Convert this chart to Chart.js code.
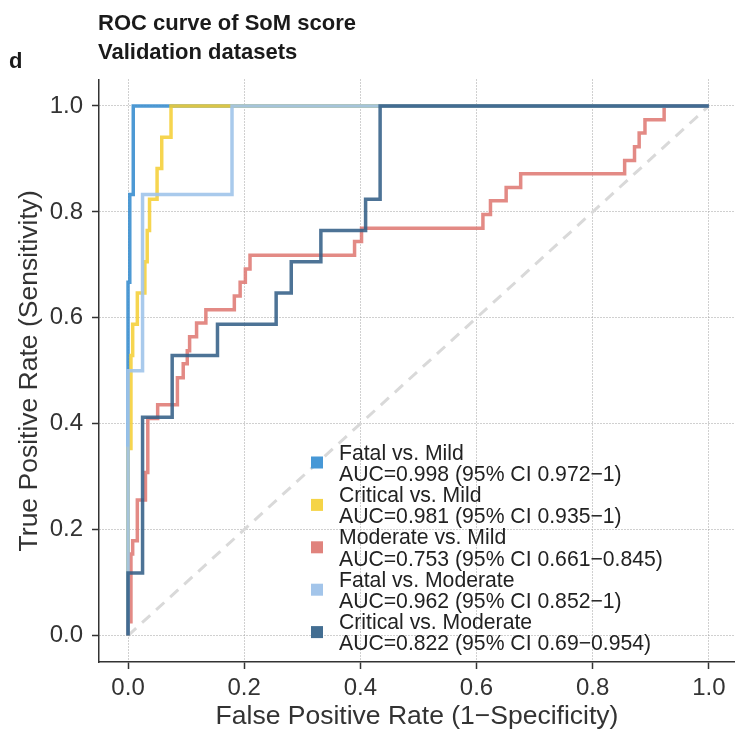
<!DOCTYPE html>
<html>
<head>
<meta charset="utf-8">
<script src="https://cdn.jsdelivr.net/npm/chart.js@4/dist/chart.umd.min.js"></script>
<style>
html,body{margin:0;padding:0;background:#fff;}
#wrap{width:735px;height:733px;}
</style>
</head>
<body>
<div id="wrap"><canvas id="c" width="735" height="733"></canvas></div>
<script>
// ---------- data ----------
const seriesNames = [
  "Fatal vs. Mild",
  "Critical vs. Mild",
  "Moderate vs. Mild",
  "Fatal vs. Moderate",
  "Critical vs. Moderate"
];
const aucLabels = [
  "AUC=0.998 (95% CI 0.972\u22121)",
  "AUC=0.981 (95% CI 0.935\u22121)",
  "AUC=0.753 (95% CI 0.661\u22120.845)",
  "AUC=0.962 (95% CI 0.852\u22121)",
  "AUC=0.822 (95% CI 0.69\u22120.954)"
];
const fatalMildFpr = [0, 0, 0.003, 0.003, 0.009, 0.009, 1];
const fatalMildTpr = [0, 0.667, 0.667, 0.833, 0.833, 1, 1];

const criticalMildFpr = [0, 0, 0.005, 0.005, 0.008, 0.008, 0.016, 0.016, 0.029, 0.029, 0.033, 0.033, 0.037, 0.037, 0.050, 0.050, 0.058, 0.058, 0.074, 0.074, 1];
const criticalMildTpr = [0, 0.353, 0.353, 0.529, 0.529, 0.588, 0.588, 0.647, 0.647, 0.706, 0.706, 0.765, 0.765, 0.824, 0.824, 0.882, 0.882, 0.941, 0.941, 1, 1];

const moderateMildFpr = [0, 0, 0.005, 0.005, 0.008, 0.008, 0.016, 0.016, 0.030, 0.030, 0.034, 0.034, 0.051, 0.051, 0.085, 0.085, 0.095, 0.095, 0.102, 0.102, 0.106, 0.106, 0.118, 0.118, 0.134, 0.134, 0.183, 0.183, 0.193, 0.193, 0.202, 0.202, 0.210, 0.210, 0.390, 0.390, 0.402, 0.402, 0.611, 0.611, 0.624, 0.624, 0.651, 0.651, 0.676, 0.676, 0.855, 0.855, 0.872, 0.872, 0.880, 0.880, 0.890, 0.890, 0.923, 0.923, 1];
const moderateMildTpr = [0, 0.026, 0.026, 0.154, 0.154, 0.179, 0.179, 0.256, 0.256, 0.308, 0.308, 0.410, 0.410, 0.436, 0.436, 0.487, 0.487, 0.513, 0.513, 0.538, 0.538, 0.564, 0.564, 0.590, 0.590, 0.615, 0.615, 0.641, 0.641, 0.667, 0.667, 0.692, 0.692, 0.718, 0.718, 0.744, 0.744, 0.769, 0.769, 0.795, 0.795, 0.821, 0.821, 0.846, 0.846, 0.872, 0.872, 0.897, 0.897, 0.923, 0.923, 0.949, 0.949, 0.974, 0.974, 1, 1];

const fatalModerateFpr = [0, 0, 0.025, 0.025, 0.179, 0.179, 1];
const fatalModerateTpr = [0, 0.5, 0.5, 0.833, 0.833, 1, 1];

const criticalModerateFpr = [0, 0, 0.025, 0.025, 0.076, 0.076, 0.154, 0.154, 0.255, 0.255, 0.281, 0.281, 0.332, 0.332, 0.409, 0.409, 0.434, 0.434, 1];
const criticalModerateTpr = [0, 0.118, 0.118, 0.412, 0.412, 0.529, 0.529, 0.588, 0.588, 0.647, 0.647, 0.706, 0.706, 0.765, 0.765, 0.824, 0.824, 1, 1];

const diagonalFpr = [0, 1];
const diagonalTpr = [0, 1];

const tickValues = [0, 0.2, 0.4, 0.6, 0.8, 1.0];

// ---------- styles ----------
const lineColors = [
  "rgba(58,142,207,0.9)",
  "rgba(245,206,48,0.85)",
  "rgba(222,118,112,0.85)",
  "rgba(160,196,234,0.9)",
  "rgba(52,96,136,0.88)"
];
const legendColors = ["#4798d6", "#f5d447", "#e0837d", "#a3c5ea", "#436e92"];
const FONT = "'Liberation Sans', Arial, Helvetica, sans-serif";

function pts(xs, ys){ return xs.map((x,i)=>({x:x, y:ys[i]})); }

const seriesData = [
  pts(fatalMildFpr, fatalMildTpr),
  pts(criticalMildFpr, criticalMildTpr),
  pts(moderateMildFpr, moderateMildTpr),
  pts(fatalModerateFpr, fatalModerateTpr),
  pts(criticalModerateFpr, criticalModerateTpr)
];

const datasets = seriesData.map((d,i)=>({
  label: seriesNames[i],
  data: d,
  showLine: true,
  borderColor: lineColors[i],
  backgroundColor: lineColors[i],
  borderWidth: 3.5,
  pointRadius: 0,
  fill: false,
  tension: 0,
  order: 4 - i
}));
datasets.push({
  label: "diagonal",
  data: pts(diagonalFpr, diagonalTpr),
  showLine: true,
  borderColor: "#d9d9d9",
  borderWidth: 3,
  borderDash: [11, 8],
  pointRadius: 0,
  order: 10
});

const textPlugin = {
  id: 'textPlugin',
  afterDraw(chart){
    const ctx = chart.ctx;
    ctx.save();
    ctx.fillStyle = '#1a1a1a';
    ctx.textAlign = 'left';
    ctx.textBaseline = 'alphabetic';
    ctx.font = "bold 22px " + FONT;
    ctx.fillText("d", 9, 68);
    ctx.font = "bold 22px " + FONT;
    ctx.fillText("ROC curve of SoM score", 98, 29.5);
    ctx.fillText("Validation datasets", 98, 58.5);
    // legend
    const x0 = 339, base0 = 459.5, lh = 21.2;
    ctx.font = "21.2px " + FONT;
    for (let i = 0; i < seriesNames.length; i++){
      const b1 = base0 + i*2*lh;
      ctx.fillStyle = legendColors[i];
      ctx.fillRect(311, b1 - 3, 12, 12);
      ctx.fillStyle = '#222';
      ctx.fillText(seriesNames[i], x0, b1);
      ctx.fillText(aucLabels[i], x0, b1 + lh);
    }
    ctx.restore();
  }
};

new Chart(document.getElementById('c'), {
  type: 'scatter',
  data: { datasets: datasets },
  plugins: [textPlugin],
  options: {
    responsive: false,
    animation: false,
    devicePixelRatio: 1,
    layout: { padding: { top: 79.5, left: 0, right: 0, bottom: 0 } },
    plugins: { legend: { display: false }, tooltip: { enabled: false } },
    scales: {
      x: {
        type: 'linear',
        min: -0.05, max: 1.045,
        afterBuildTicks(s){ s.ticks = tickValues.map(v=>({value:v})); },
        afterFit(s){ s.height = 71; },
        ticks: {
          font: { family: FONT, size: 24 },
          color: '#333',
          padding: 5,
          callback: v => Number(v).toFixed(1),
          maxRotation: 0, autoSkip: false
        },
        grid: { color: '#a0a0a0', lineWidth: 1, tickLength: 7, tickColor: '#333', tickWidth: 1.5 },
        border: { display: true, color: '#333', width: 1.5, dash: [1, 2] },
        title: {
          display: true,
          text: 'False Positive Rate (1\u2212Specificity)',
          font: { family: FONT, size: 26.5 },
          color: '#333',
          padding: { top: 0, bottom: 0 }
        }
      },
      y: {
        type: 'linear',
        min: -0.05, max: 1.05,
        afterBuildTicks(s){ s.ticks = tickValues.map(v=>({value:v})); },
        afterFit(s){ s.width = 99; },
        ticks: {
          font: { family: FONT, size: 24 },
          color: '#333',
          padding: 9,
          callback: v => Number(v).toFixed(1),
          autoSkip: false
        },
        grid: { color: '#a0a0a0', lineWidth: 1, tickLength: 7, tickColor: '#333', tickWidth: 1.5 },
        border: { display: true, color: '#333', width: 1.5, dash: [1, 2] },
        title: {
          display: true,
          text: 'True Positive Rate (Sensitivity)',
          font: { family: FONT, size: 26.5 },
          color: '#333',
          padding: { top: 14, bottom: 0 }
        }
      }
    }
  }
});
</script>
</body>
</html>
